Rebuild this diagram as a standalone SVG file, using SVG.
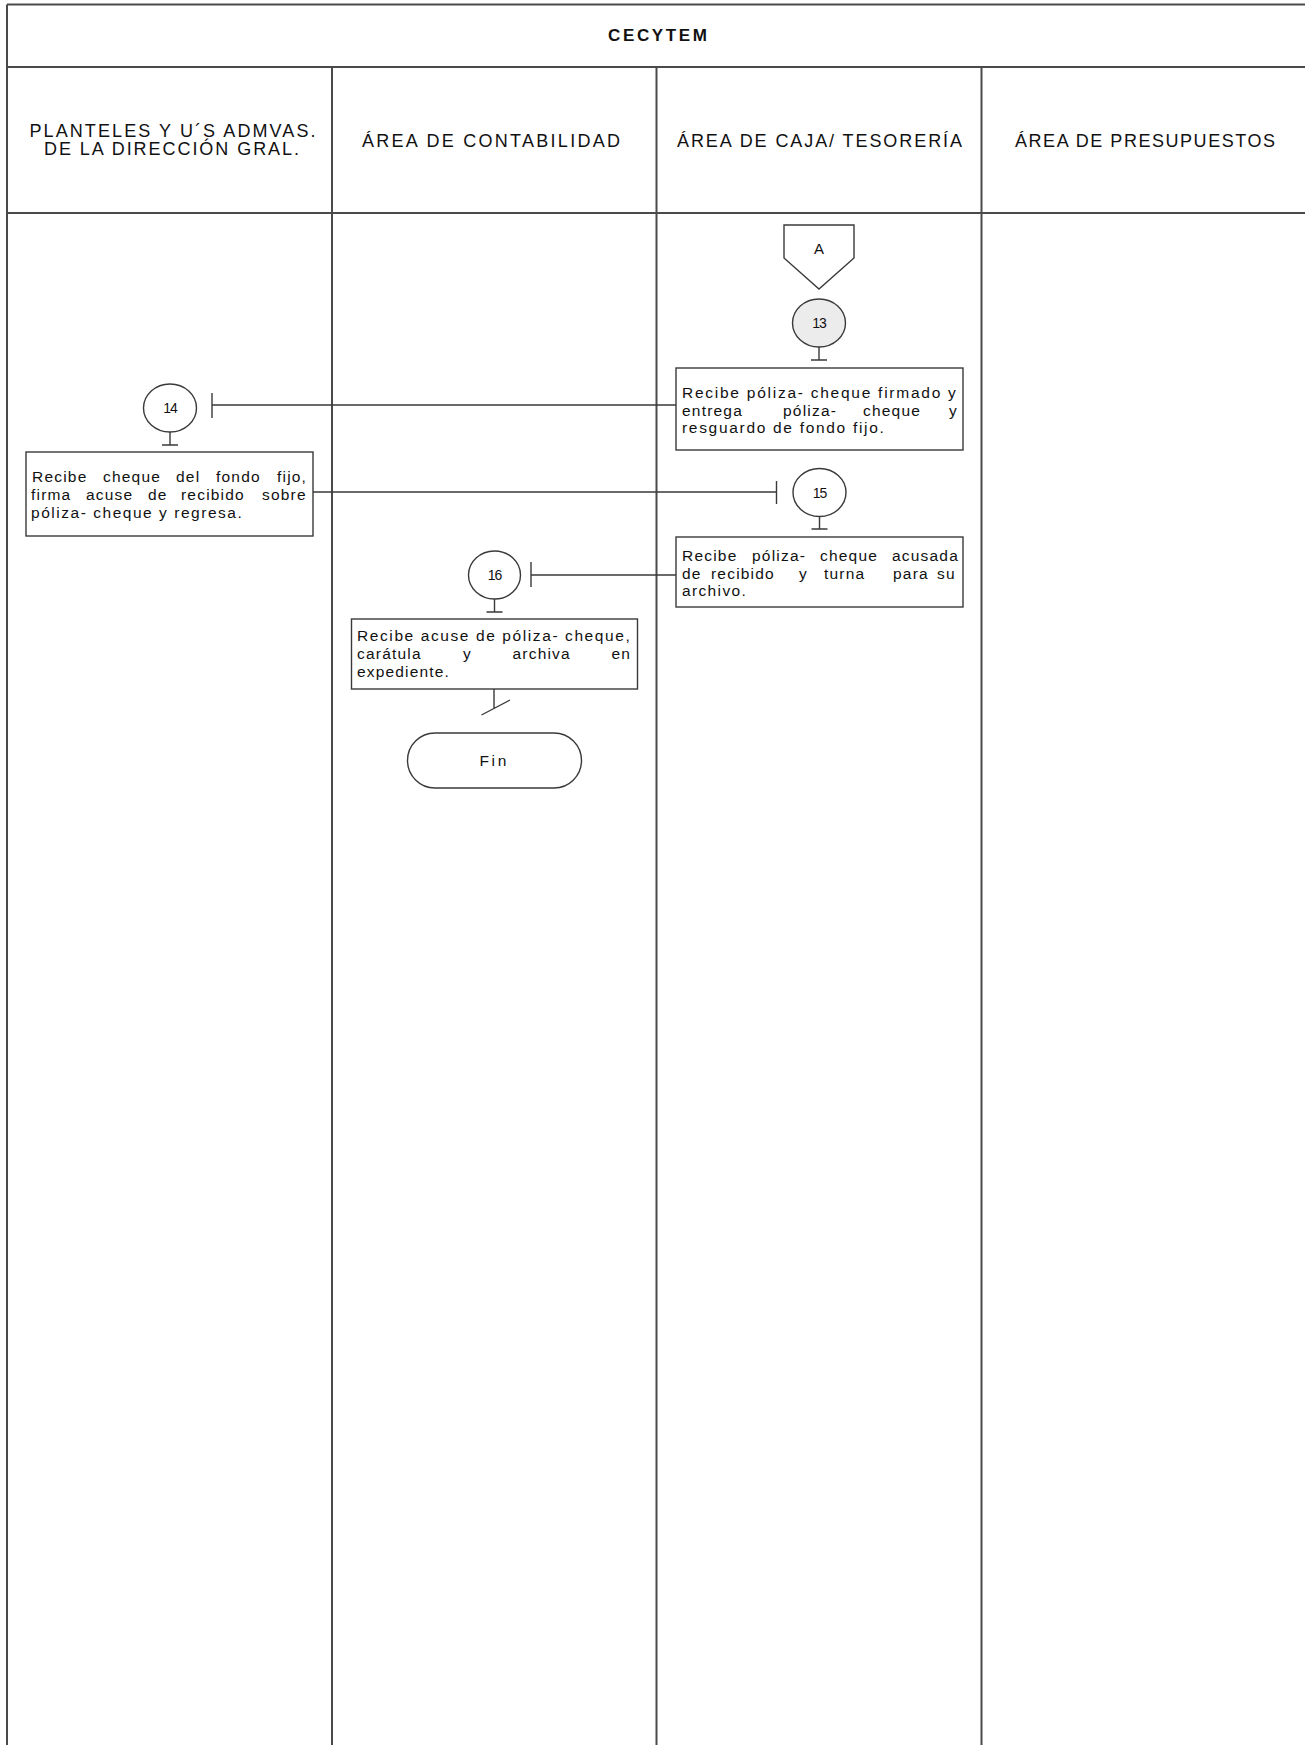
<svg xmlns="http://www.w3.org/2000/svg" width="1305" height="1745" viewBox="0 0 1305 1745">
<style>
.frame{stroke:#4a4a4a;stroke-width:2;fill:none}
.shape{stroke:#3a3a3a;stroke-width:1.4;fill:#fff}
.conn{stroke:#3a3a3a;stroke-width:1.4;fill:none}
.hd{font-family:"Liberation Sans",Arial,sans-serif;font-size:18px;fill:#111}
.ttl{font-family:"Liberation Sans",Arial,sans-serif;font-size:17px;font-weight:bold;fill:#111}
.tx{font-family:"Liberation Sans",Arial,sans-serif;font-size:15.5px;letter-spacing:1.2px;fill:#111}
.num{font-family:"Liberation Sans",Arial,sans-serif;font-size:14px;letter-spacing:-1px;fill:#111;text-anchor:middle}
</style>
<rect x="0" y="0" width="1305" height="1745" fill="#fff"/>
<g id="frame">
<line class="frame" x1="7" y1="4.5" x2="1305" y2="4.5"/>
<line class="frame" x1="7" y1="4.5" x2="7" y2="1745"/>
<line class="frame" x1="7" y1="67" x2="1305" y2="67"/>
<line class="frame" x1="7" y1="213" x2="1305" y2="213"/>
<line class="frame" x1="332" y1="67" x2="332" y2="1745"/>
<line class="frame" x1="656.5" y1="67" x2="656.5" y2="1745"/>
<line class="frame" x1="981.5" y1="67" x2="981.5" y2="1745"/>
<text class="ttl" x="608" y="41" textLength="99" lengthAdjust="spacing">CECYTEM</text>
<text class="hd" x="29.5" y="137" textLength="286" lengthAdjust="spacing">PLANTELES Y U´S ADMVAS.</text>
<text class="hd" x="44" y="155" textLength="255" lengthAdjust="spacing">DE LA DIRECCIÓN GRAL.</text>
<text class="hd" x="362" y="147" textLength="258" lengthAdjust="spacing">ÁREA DE CONTABILIDAD</text>
<text class="hd" x="677" y="147" textLength="285" lengthAdjust="spacing">ÁREA DE CAJA/ TESORERÍA</text>
<text class="hd" x="1015" y="147" textLength="260" lengthAdjust="spacing">ÁREA DE PRESUPUESTOS</text>
</g>
<g id="connectors">
<path class="conn" d="M819,347 V360 M811,360 H827"/>
<path class="conn" d="M676,405 H212 M212,393 V418"/>
<path class="conn" d="M170,432 V445 M162,445 H178"/>
<path class="conn" d="M313,492 H776.5 M776.5,481 V504"/>
<path class="conn" d="M819.5,516.5 V529 M811.5,529 H827.5"/>
<path class="conn" d="M676,575 H531 M531,562 V587"/>
<path class="conn" d="M494.5,599 V612 M486.5,612 H502.5"/>
<path class="conn" d="M494,689 V708 M481.5,715 L510,700"/>
</g>
<g id="nodeA">
<polygon class="shape" points="784,225 854,225 854,258 819,289 784,258"/>
<text class="num" x="819" y="254" style="font-size:15px;letter-spacing:0">A</text>
</g>
<g id="node13">
<ellipse class="shape" cx="819" cy="323" rx="26.5" ry="24" style="fill:#ececec"/>
<text class="num" x="819" y="328">13</text>
</g>
<g id="box13">
<rect class="shape" x="676" y="368" width="287" height="82"/>
<text class="tx" x="682" y="398" textLength="275" lengthAdjust="spacing">Recibe póliza- cheque firmado y</text>
<text class="tx" y="415.5"><tspan x="682">entrega</tspan><tspan x="783">póliza-</tspan><tspan x="863">cheque</tspan><tspan x="949">y</tspan></text>
<text class="tx" x="682" y="433" textLength="203" lengthAdjust="spacing">resguardo de fondo fijo.</text>
</g>
<g id="node14">
<ellipse class="shape" cx="170" cy="408" rx="26.5" ry="24"/>
<text class="num" x="170" y="413">14</text>
</g>
<g id="box14">
<rect class="shape" x="26" y="452" width="287" height="84"/>
<text class="tx" y="482"><tspan x="32">Recibe</tspan><tspan x="103">cheque</tspan><tspan x="176">del</tspan><tspan x="216">fondo</tspan><tspan x="277">fijo,</tspan></text>
<text class="tx" y="500"><tspan x="31">firma</tspan><tspan x="86">acuse</tspan><tspan x="148">de</tspan><tspan x="181">recibido</tspan><tspan x="262">sobre</tspan></text>
<text class="tx" x="31" y="518" textLength="212" lengthAdjust="spacing">póliza- cheque y regresa.</text>
</g>
<g id="node15">
<ellipse class="shape" cx="819.5" cy="492.5" rx="26.5" ry="24"/>
<text class="num" x="819.5" y="497.5">15</text>
</g>
<g id="box15">
<rect class="shape" x="676" y="537" width="287" height="70"/>
<text class="tx" y="561"><tspan x="682">Recibe</tspan><tspan x="752">póliza-</tspan><tspan x="820">cheque</tspan><tspan x="892">acusada</tspan></text>
<text class="tx" y="578.5"><tspan x="682">de</tspan><tspan x="711">recibido</tspan><tspan x="799">y</tspan><tspan x="824">turna</tspan><tspan x="893">para</tspan><tspan x="937">su</tspan></text>
<text class="tx" x="682" y="596" textLength="65" lengthAdjust="spacing">archivo.</text>
</g>
<g id="node16">
<ellipse class="shape" cx="494.5" cy="575" rx="26" ry="24"/>
<text class="num" x="494.5" y="580">16</text>
</g>
<g id="box16">
<rect class="shape" x="351.5" y="619" width="286" height="70"/>
<text class="tx" x="357" y="641" textLength="274" lengthAdjust="spacing">Recibe acuse de póliza- cheque,</text>
<text class="tx" y="659"><tspan x="357">carátula</tspan><tspan x="463">y</tspan><tspan x="512.5">archiva</tspan><tspan x="611.5">en</tspan></text>
<text class="tx" x="357" y="677" textLength="93" lengthAdjust="spacing">expediente.</text>
</g>
<g id="fin">
<rect class="shape" x="407.5" y="733" width="174" height="55" rx="27.5" ry="27.5"/>
<text class="tx" x="479.5" y="765.5" textLength="28" lengthAdjust="spacing">Fin</text>
</g>
</svg>
